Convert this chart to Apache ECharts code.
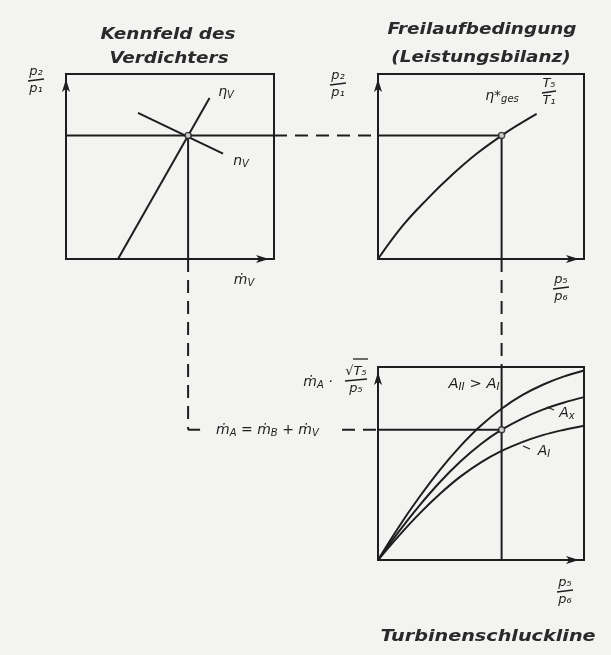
<!DOCTYPE html>
<html><head><meta charset="utf-8">
<script src="https://cdn.jsdelivr.net/npm/echarts@6/dist/echarts.min.js"></script>
<style>html,body{margin:0;padding:0;background:#f3f3f1}#chart{width:611px;height:655px}</style>
</head><body><div id="chart"></div>
<script>
// --- Compressor map (normalised ṁV on x, p2/p1 on y) ---
const etaLine = [[0.25, 0], [0.69, 0.87]];
const speedLine = [[0.346, 0.79], [0.755, 0.57]];
const opMassFlowV = 0.587;      // ṁV at the operating point
const opPressureRatio = 0.667;  // p2/p1 at the operating point

// --- Free-running condition (power balance), x = p5/p6 ---
const balanceX = [0, 0.12, 0.24, 0.36, 0.48, 0.6, 0.68, 0.77];
const balanceY = [0, 0.18, 0.325, 0.455, 0.57, 0.667, 0.725, 0.785];
const opExpansion = 0.6;        // p5/p6 at the operating point

// --- Turbine swallowing lines, x = p5/p6 ---
const turbineX = [0, 0.1, 0.2, 0.3, 0.4, 0.5, 0.6, 0.7, 0.8, 0.9, 1.0];
const lineAII = [0, 0.170, 0.325, 0.466, 0.590, 0.697, 0.784, 0.854, 0.908, 0.950, 0.982];
const lineAx = [0, 0.146, 0.281, 0.403, 0.510, 0.601, 0.675, 0.733, 0.779, 0.815, 0.844];
const lineAI = [0, 0.124, 0.239, 0.342, 0.432, 0.506, 0.565, 0.611, 0.647, 0.674, 0.696];
const opTurbineFlow = 0.675;    // reduced mass flow at the operating point

const INK = '#1e1e1e';
const PAPER = '#f3f3f1';
const FONT = 'italic 15px "DejaVu Sans"';

const pairs = (xs, ys) => xs.map((x, i) => [x, ys[i]]);

function axisPair(grid) {
  const base = {
    type: 'value', gridIndex: grid, min: 0, max: 1,
    axisTick: { show: false }, axisLabel: { show: false }, splitLine: { show: false },
    axisLine: { show: true, symbol: ['none', 'arrow'], symbolSize: [6, 13], symbolOffset: [0, -5],
      lineStyle: { color: INK, width: 2 } }
  };
  return [Object.assign({}, base), Object.assign({}, base)];
}
const axes = [0, 1, 2].map(axisPair);

function line(grid, data, smooth) {
  return { type: 'line', xAxisIndex: grid, yAxisIndex: grid, data, smooth: smooth ? 0.4 : false,
    showSymbol: false, silent: true, lineStyle: { color: INK, width: 2 } };
}
function marker(grid, pt) {
  return { type: 'scatter', xAxisIndex: grid, yAxisIndex: grid, data: [pt], symbolSize: 6, z: 5,
    silent: true, itemStyle: { color: PAPER, borderColor: INK, borderWidth: 1.5 } };
}

const chart = echarts.init(document.getElementById('chart'), null, { renderer: 'canvas' });
chart.setOption({
  backgroundColor: PAPER,
  animation: false,
  grid: [
    { left: 66, top: 74, width: 208, height: 185, show: true, borderColor: INK, borderWidth: 2, backgroundColor: 'transparent' },
    { left: 378, top: 74, width: 206, height: 185, show: true, borderColor: INK, borderWidth: 2, backgroundColor: 'transparent' },
    { left: 378, top: 367, width: 206, height: 193, show: true, borderColor: INK, borderWidth: 2, backgroundColor: 'transparent' }
  ],
  xAxis: axes.map(a => a[0]),
  yAxis: axes.map(a => a[1]),
  series: [
    line(0, etaLine),
    line(0, speedLine),
    line(0, [[0, opPressureRatio], [1, opPressureRatio]]),
    line(0, [[opMassFlowV, opPressureRatio], [opMassFlowV, 0]]),
    marker(0, [opMassFlowV, opPressureRatio]),

    line(1, pairs(balanceX, balanceY), true),
    line(1, [[0, opPressureRatio], [opExpansion, opPressureRatio]]),
    line(1, [[opExpansion, opPressureRatio], [opExpansion, 0]]),
    marker(1, [opExpansion, opPressureRatio]),

    line(2, pairs(turbineX, lineAII), true),
    line(2, pairs(turbineX, lineAx), true),
    line(2, pairs(turbineX, lineAI), true),
    line(2, [[0, opTurbineFlow], [opExpansion, opTurbineFlow]]),
    line(2, [[opExpansion, 0], [opExpansion, 1]]),
    marker(2, [opExpansion, opTurbineFlow])
  ]
});

// ---- connectors between the three diagrams, placed through the grids' own scales ----
const px = (g, pt) => chart.convertToPixel({ gridIndex: g }, pt);
const cRight = px(0, [1, opPressureRatio]);
const cLeft2 = px(1, [0, opPressureRatio]);
const cBottom = px(0, [opMassFlowV, 0]);
const tLeft = px(2, [0, opTurbineFlow]);
const bBottom = px(1, [opExpansion, 0]);
const tTop = px(2, [opExpansion, 1]);

const dash = { stroke: INK, lineWidth: 2, lineDash: [13, 8] };
const solid = { stroke: INK, lineWidth: 2 };
const seg = (x1, y1, x2, y2, style) => ({ type: 'line', silent: true, shape: { x1, y1, x2, y2 }, style });

const g = [];
g.push(seg(cRight[0], cRight[1], cLeft2[0], cLeft2[1], dash));
g.push(seg(cBottom[0], cBottom[1], cBottom[0], tLeft[1], dash));
g.push(seg(cBottom[0], tLeft[1], cBottom[0] + 12, tLeft[1], solid));
g.push(seg(tLeft[0] - 36, tLeft[1], tLeft[0], tLeft[1], dash));
g.push(seg(bBottom[0], bBottom[1], tTop[0], tTop[1], dash));

// ---- text helpers ----
function txt(text, x, y, opt) {
  opt = opt || {};
  return { type: 'text', silent: true, x, y, scaleX: opt.sx || 1, style: Object.assign({
    text, fill: INK, font: opt.font || FONT, align: opt.align || 'center', verticalAlign: opt.va || 'middle', rich: opt.rich
  }, opt.style || {}) };
}
function frac(num, den, cx, cy, w, opt) {
  opt = opt || {};
  const font = opt.font || 'italic 13px "DejaVu Sans"';
  return [
    txt(num, cx, cy - 2, { font, va: 'bottom', rich: opt.rich }),
    seg(cx - w / 2, cy + 1, cx + w / 2, cy - 1, { stroke: INK, lineWidth: 1.4 }),
    txt(den, cx, cy + 2, { font, va: 'top', rich: opt.rich })
  ];
}
const sub = { fontSize: 10, fontStyle: 'italic', fontFamily: 'DejaVu Sans', padding: [6, 0, 0, 0] };
const big = { fontSize: 14, fontStyle: 'italic', fontFamily: 'DejaVu Sans' };
const mid = { fontSize: 14, fontStyle: 'italic', fontFamily: 'DejaVu Sans' };

// titles
const TITLE = 'italic bold 16px "DejaVu Sans"';
const TITLE_INK = { fill: '#2a2a2a' };
g.push(txt('Kennfeld des', 168, 35, { font: TITLE, sx: 1.15, style: TITLE_INK }));
g.push(txt('Verdichters', 169, 59, { font: TITLE, sx: 1.15, style: TITLE_INK }));
g.push(txt('Freilaufbedingung', 482, 30, { font: TITLE, sx: 1.15, style: TITLE_INK }));
g.push(txt('(Leistungsbilanz)', 481, 58, { font: TITLE, sx: 1.15, style: TITLE_INK }));
g.push(txt('Turbinenschluckline', 488, 637, { font: TITLE, sx: 1.2, style: TITLE_INK }));

// axis labels
g.push(...frac('p₂', 'p₁', 36, 80, 16));
g.push(...frac('p₂', 'p₁', 338, 84, 16));
g.push(txt('{m|ṁ}{s|V}', 244, 280, { rich: { m: big, s: sub } }));
g.push(...frac('p₅', 'p₆', 561, 288, 16));
g.push(...frac('p₅', 'p₆', 565, 591, 16));
g.push(txt('{m|ṁ}{s|A}{m| ·}', 318, 382, { rich: { m: big, s: sub } }));
g.push(...frac('√T₅', 'p₅', 356, 380, 22));
g.push(seg(353, 359, 368, 359, { stroke: INK, lineWidth: 1.3 }));

// curve labels
g.push(txt('{m|η}{s|V}', 226, 92, { rich: { m: big, s: sub } }));
g.push(txt('{m|n}{s|V}', 241, 161, { rich: { m: big, s: sub } }));
g.push(txt('{m|η*}{s|ges}', 502, 96, { rich: { m: big, s: sub } }));
g.push(...frac('T₅', 'T₁', 549, 92, 14));
g.push(txt('{m|A}{s|II}{m| > A}{s|I}', 474, 384, { rich: { m: mid, s: sub }, sx: 1.05 }));
g.push(txt('{m|A}{s|x}', 567, 413, { rich: { m: mid, s: sub } }));
g.push(seg(547, 407, 554, 410, { stroke: INK, lineWidth: 1.2 }));
g.push(txt('{m|A}{s|I}', 544, 451, { rich: { m: mid, s: sub } }));
g.push(seg(523, 446, 530, 449, { stroke: INK, lineWidth: 1.2 }));

// flow balance text on the connector
g.push(txt('{m|ṁ}{s|A}{m| = ṁ}{s|B}{m| + ṁ}{s|V}', cBottom[0] + 28, tLeft[1] + 1,
  { align: 'left', rich: { m: big, s: sub } }));

chart.setOption({ graphic: g });
</script></body></html>
